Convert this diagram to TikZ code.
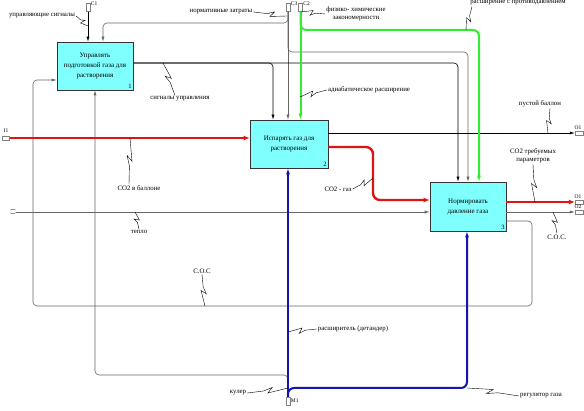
\documentclass[tikz,border=0pt]{standalone}
\usepackage{fontspec}
\setmainfont{Liberation Serif}
\usetikzlibrary{arrows.meta,calc}

\definecolor{funccyan}{RGB}{128,255,255}
\definecolor{arrred}{RGB}{225,20,20}
\definecolor{arrgreen}{RGB}{50,235,50}
\definecolor{arrblue}{RGB}{20,20,180}

\tikzset{
    func/.style={draw=black!80, fill=funccyan, line width=0.6pt, align=center,
        font=\fontsize{7}{10}\selectfont, inner sep=0pt},
    fnum/.style={font=\fontsize{6.5}{7}\selectfont, inner sep=1.5pt},
    lbl/.style={font=\fontsize{6.8}{8.5}\selectfont, align=center, inner sep=1pt},
    icom/.style={font=\fontsize{5.5}{6}\selectfont, inner sep=0.5pt},
    tunnel/.style={draw=gray, fill=white, line width=0.4pt, inner sep=0pt},
    sigline/.style={draw=black, line width=0.6pt, rounded corners=4pt,
        -{Latex[length=5pt,width=3pt]}},
    normline/.style={draw=gray!80!black, line width=0.6pt, rounded corners=4pt,
        -{Latex[length=5pt,width=3pt]}},
    redline/.style={draw=arrred, line width=2.4pt, rounded corners=7pt,
        -{Latex[length=6pt,width=5pt]}},
    greenline/.style={draw=arrgreen, line width=2pt, rounded corners=6pt,
        -{Latex[length=6pt,width=4pt]}},
    blueline/.style={draw=arrblue, line width=2pt, rounded corners=6pt,
        -{Latex[length=6pt,width=4pt]}},
    squig/.style={draw=black, line width=0.4pt,
        to path={-- ($(\tikztostart)!0.4!(\tikztotarget)$)
            -- ($(\tikztostart)!0.62!(\tikztotarget)!2.5pt!90:(\tikztotarget)$)
            -- ($(\tikztostart)!0.5!(\tikztotarget)!2.5pt!-90:(\tikztotarget)$)
            -- (\tikztotarget)}}
}

\begin{document}
\begin{tikzpicture}[x=1pt,y=-1pt]
    \useasboundingbox (0,0) rectangle (584,411);

    \node[func, minimum width=76, minimum height=48] (b1) at (95,66)
        {Управлять\\подготовкой газа для\\растворения};
    \node[func, minimum width=78, minimum height=48] (b2) at (289,144)
        {Испарять газ для\\растворения};
    \node[func, minimum width=76, minimum height=49] (b3) at (468,206.5)
        {Нормировать\\давление газа};
    \node[fnum, anchor=south east] (n1) at (b1.south east) {1};
    \node[fnum, anchor=south east] (n2) at (b2.south east) {2};
    \node[fnum, anchor=south east] (n3) at (b3.south east) {3};

    \node[tunnel, minimum width=4, minimum height=8] (c1t) at (88,7.5) {};
    \node[tunnel, minimum width=4, minimum height=8] (c3t) at (288,7.5) {};
    \node[tunnel, minimum width=4, minimum height=8] (c2t) at (300.5,7.5) {};
    \node[tunnel, minimum width=7, minimum height=4] (i1t) at (6,138) {};
    \node[tunnel, minimum width=8, minimum height=4] (o1t) at (579,133) {};
    \node[tunnel, minimum width=8, minimum height=4] (o2t) at (579,202) {};
    \node[tunnel, minimum width=8, minimum height=4] (o3t) at (579,212) {};
    \node[tunnel, minimum width=4, minimum height=8] (m1t) at (288,401) {};
    \node[icom, anchor=west] (c1l) at (c1t.north east) {C1};
    \node[icom, anchor=west] (c3l) at (c3t.north east) {C3};
    \node[icom, anchor=west] (c2l) at (c2t.north east) {C2};
    \node[icom] (i1l) at (6,131) {I1};
    \node[icom, rotate=90] (i2t) at (13,212) {[\,\,]};
    \node[icom] (o1l) at (578,128) {O1};
    \node[icom] (o2l) at (578,197) {O1};
    \node[icom] (o3l) at (578,206.5) {O2};
    \node[icom, anchor=west] (m1l) at (m1t.east) {M1};

    \draw[normline] (m1t.north) |- (95,375) -- (95,0 |- b1.south);
    \draw[normline] (b3.east |- 0,221) -| (532,306) -| (33,80) -- (b1.west |- 0,80);
    \draw[normline] (i2t.south) -- (i2t.south -| b3.west);
    \draw[normline] (b3.east |- 0,212) -- (o3t.west);
    \draw[normline] (c3t.south) -- (c3t.south |- b2.north);
    \draw[normline] (c3t.south) |- (103,23) -- (103,0 |- b1.north);
    \draw[normline] (c3t.south) |- (468,52) -- (468,0 |- b3.north);
    \draw[sigline] (c1t.south) -- (c1t.south |- b1.north);
    \draw[sigline] (b1.east |- 0,63) -| (458,0 |- b3.north);
    \draw[sigline] (b1.east |- 0,63) -| (273,0 |- b2.north);
    \draw[sigline] (b2.east |- 0,133) -- (o1t.west);
    \draw[greenline] (c2t.south) -- (c2t.south |- b2.north);
    \draw[greenline] (c2t.south) |- (479,30) -- (479,0 |- b3.north);
    \draw[redline] (i1t.east) -- (i1t.east -| b2.west);
    \draw[redline] (b2.east |- 0,147) -| (373,200) -- (b3.west |- 0,200);
    \draw[redline] (b3.east |- 0,202) -- (o2t.west);
    \draw[blueline] (m1t.north) -- (m1t.north |- b2.south);
    \draw[blueline] (m1t.north) |- (467,388) -- (467,0 |- b3.south);

    \node[lbl] (lctrl) at (42,16) {управляющие сигналы};
    \node[lbl] (lnorm) at (221,12) {нормативные затраты};
    \node[lbl] (lphys) at (356,14) {физико- химические\\закономерности};
    \node[lbl] (lexp) at (518,3) {расширение с противодавлением};
    \node[lbl] (ladiab) at (369,90) {адиабатическое расширение};
    \node[lbl] (lsig) at (180,99) {сигналы управления};
    \node[lbl] (lempty) at (540,104) {пустой баллон};
    \node[lbl] (lreq) at (533,156) {CO2 требуемых\\параметров};
    \node[lbl] (lcoc2) at (557,237) {C.O.C.};
    \node[lbl] (lco2g) at (338,189) {CO2 - газ};
    \node[lbl] (lco2b) at (139,188) {CO2 в баллоне};
    \node[lbl] (lheat) at (139,232) {тепло};
    \node[lbl] (lcoc1) at (202,271) {C.O.C};
    \node[lbl] (ldet) at (353,329) {расширитель (детандер)};
    \node[lbl] (lcool) at (238,393) {кулер};
    \node[lbl] (lreg) at (541,396) {регулятор газа};

    \draw[squig] (lctrl.east) to (88,26);
    \draw[squig] (lnorm.east) to (287,16);
    \draw[squig] (lphys.west) to (301,12);
    \draw[squig] ([xshift=-46pt]lexp.south) to (466,30);
    \draw[squig] (ladiab.west) to (300,97);
    \draw[squig] ([xshift=-5pt]lsig.north) to (163,63);
    \draw[squig] ([xshift=10pt]lempty.south) to (548,133);
    \draw[squig] (lreq.south) to (535,202);
    \draw[squig] (lcoc2.north) to (553,212);
    \draw[squig] (lco2g.east) to (373,178);
    \draw[squig] ([xshift=-10pt]lco2b.north) to (130,138);
    \draw[squig] (lheat.north) to (135,212);
    \draw[squig] (lcoc1.south) to (205,306);
    \draw[squig] (ldet.west) to (288,332);
    \draw[squig] (lcool.east) to (288,388);
    \draw[squig] (lreg.west) to (467,388);
\end{tikzpicture}
\end{document}
